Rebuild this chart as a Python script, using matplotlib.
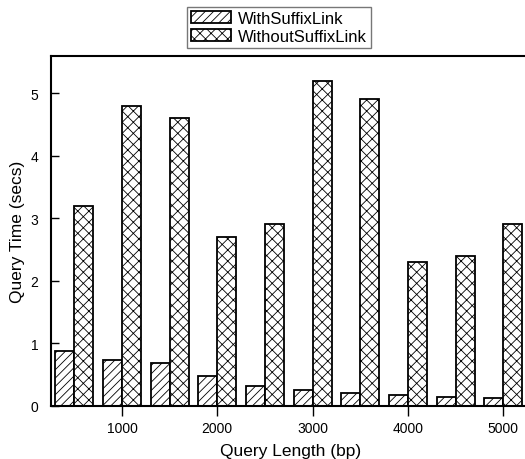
from matplotlib import pyplot as plt
import numpy as np

plt.rcParams['font.family'] = ['Liberation Sans', 'DejaVu Sans']
plt.rcParams['hatch.linewidth'] = 0.6

#### données ####
lengths = [500, 1000, 1500, 2000, 2500, 3000, 3500, 4000, 4500, 5000]
with_link = [0.87, 0.73, 0.68, 0.47, 0.32, 0.25, 0.20, 0.17, 0.14, 0.125]
without_link = [3.2, 4.8, 4.6, 2.7, 2.9, 5.2, 4.9, 2.3, 2.4, 2.9]
xticks = [1000, 2000, 3000, 4000, 5000]
yticks = [0, 1, 2, 3, 4, 5]

W, H = 525, 460
fig = plt.figure(figsize=(W/100, H/100), dpi=100)
ax = fig.add_axes([51/W, (H-406.7)/H, (530-51)/W, (406.7-57)/H])

x = np.array(lengths)
bw = 200
b1 = ax.bar(x - bw/2, with_link, width=bw, facecolor='white', edgecolor='black',
            linewidth=1.3, hatch='////', label='WithSuffixLink')
b2 = ax.bar(x + bw/2, without_link, width=bw, facecolor='white', edgecolor='black',
            linewidth=1.3, hatch='xxx', label='WithoutSuffixLink')

ax.set_xlim(255, 5281)
ax.set_ylim(0, 5.595)
ax.set_xticks(xticks)
ax.set_yticks(yticks)
ax.tick_params(axis='y', direction='in', length=6, width=1, labelsize=10, pad=9)
ax.tick_params(axis='x', direction='out', length=7, width=1, labelsize=10, pad=4)
for s in ax.spines.values():
    s.set_linewidth(1.5)
ax.spines['right'].set_visible(False)

ax.set_xlabel('Query Length (bp)', fontsize=12.5, labelpad=6)
ax.set_ylabel('Query Time (secs)', fontsize=12.5, labelpad=4)

leg = fig.legend(handles=[b1, b2], loc='upper center', bbox_to_anchor=(279/W, 1-8/H),
                 fontsize=12, frameon=True, fancybox=False, handlelength=2.4,
                 handleheight=0.75, handletextpad=0.4, labelspacing=0.15,
                 borderpad=0.25, borderaxespad=0)
leg.get_frame().set_edgecolor('#555555')
leg.get_frame().set_linewidth(1)

fig.savefig('out.png', dpi=100)
